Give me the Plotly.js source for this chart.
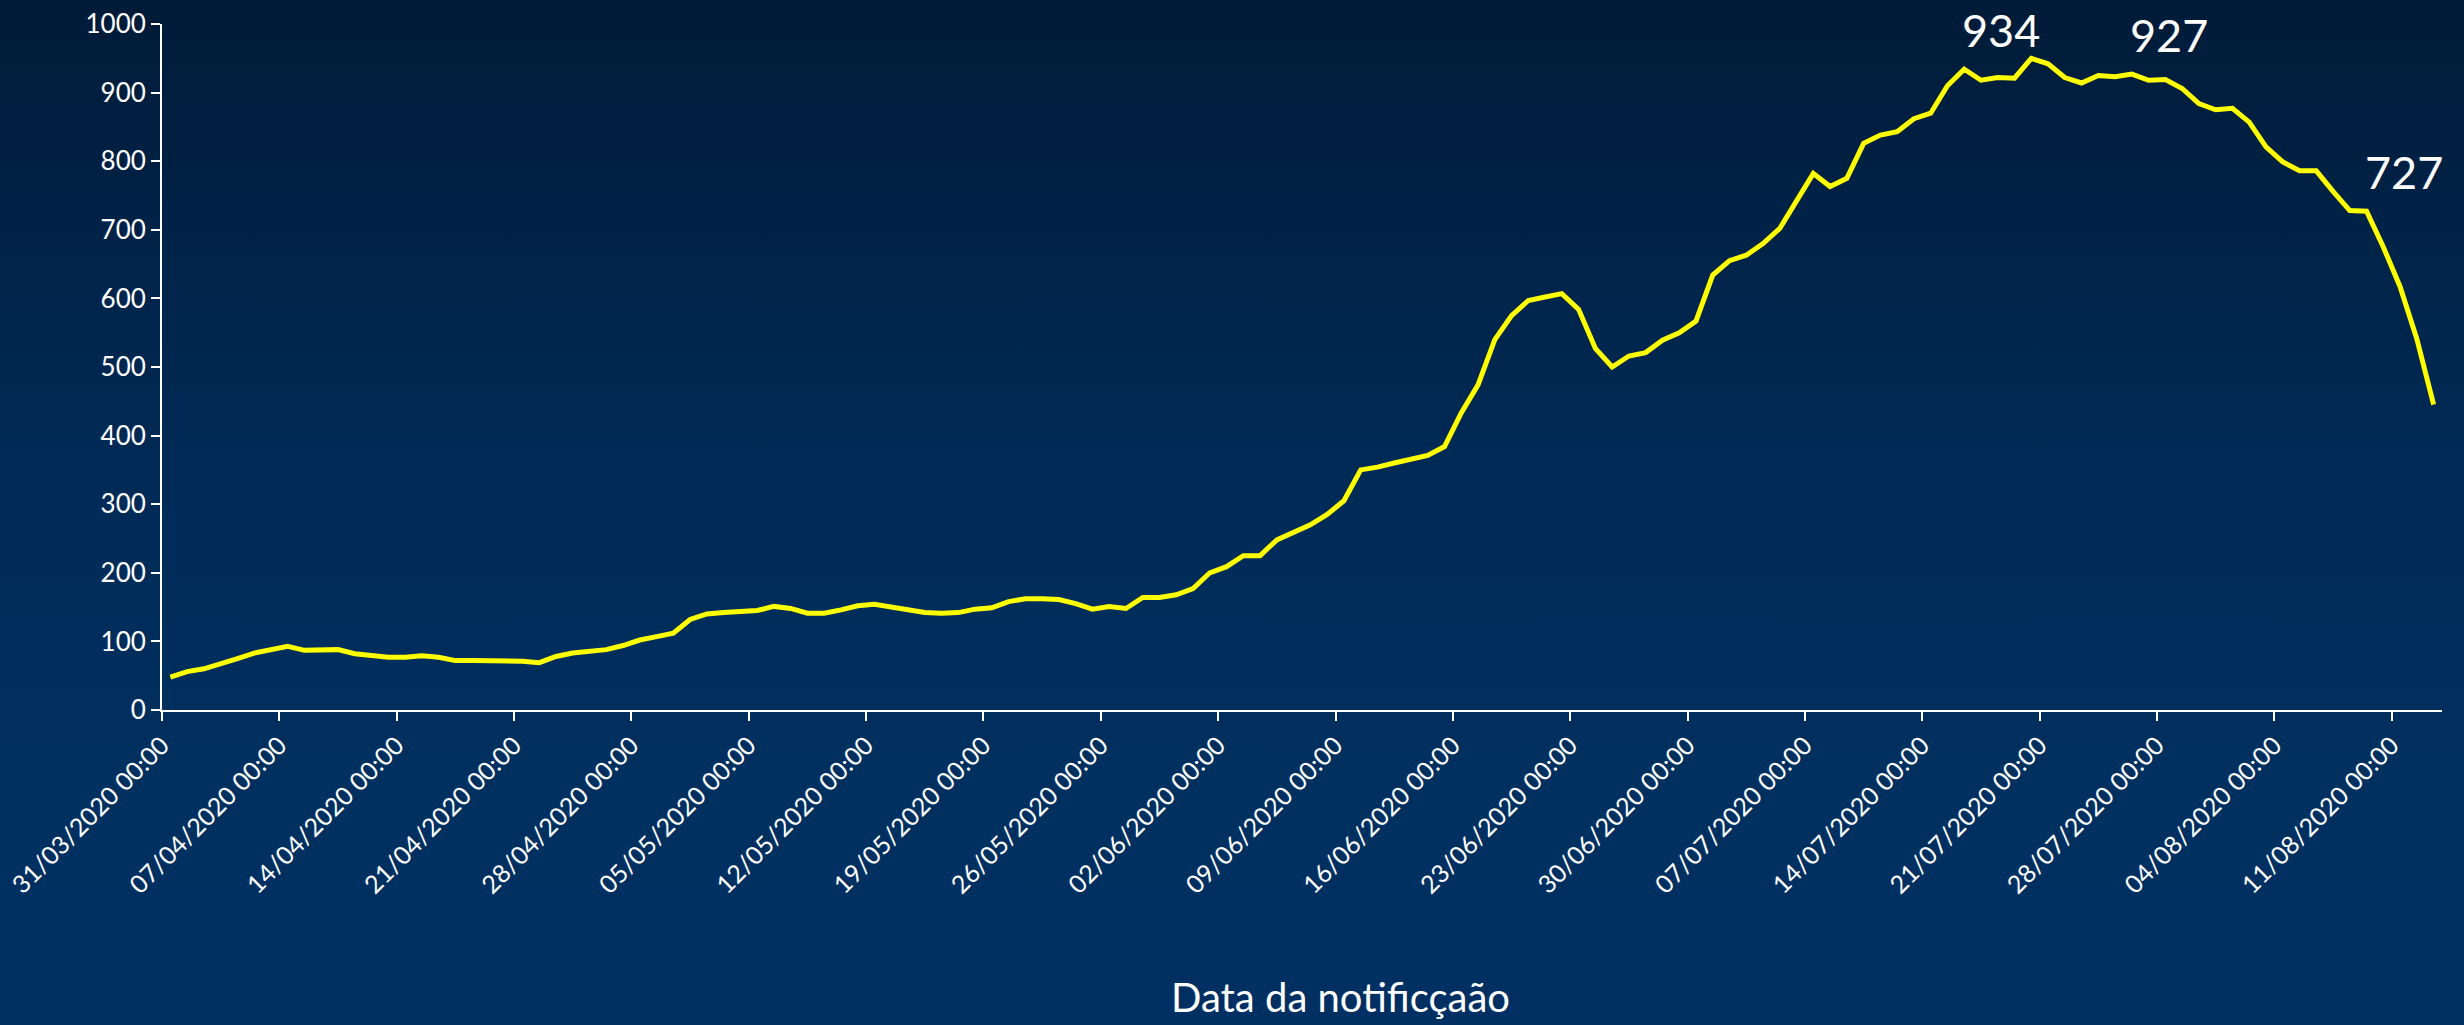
<!DOCTYPE html>
<html>
<head>
<meta charset="utf-8">
<script src="https://cdn.plot.ly/plotly-3.0.1.min.js"></script>
<style>
  html, body { margin: 0; padding: 0; }
  #chart {
    width: 2464px; height: 1025px;
    background: linear-gradient(to bottom, #001b38 0%, #012a56 45%, #00305f 75%, #003063 100%);
  }
</style>
</head>
<body>
<div id="chart"></div>
<script>
// ---- data ----
const startDate = '2020-03-31';
const values = [
  48, 56, 60, 67, 75, 83, 88, 93, 87, 87,
  88, 82, 80, 77, 77, 79, 77, 72, 72, 72,
  72, 71, 69, 78, 83, 86, 88, 94, 102, 107,
  112, 132, 140, 142, 144, 145, 151, 148, 141, 141,
  146, 152, 154, 150, 146, 142, 141, 142, 147, 149,
  158, 162, 162, 161, 155, 147, 151, 148, 164, 164,
  168, 177, 200, 209, 225, 225, 248, 259, 270, 285,
  305, 350, 354, 360, 365, 371, 384, 433, 474, 540,
  575, 597, 602, 607, 584, 527, 500, 516, 521, 539,
  550, 567, 634, 655, 663, 680, 702, 743, 782, 763,
  775, 826, 838, 843, 862, 870, 910, 934, 918, 922,
  921, 950, 942, 922, 914, 925, 923, 927, 918, 919,
  906, 884, 875, 877, 857, 821, 799, 786, 786, 756,
  728, 727, 675, 617, 541, 445
];
const tickDates = [
  '2020-03-31','2020-04-07','2020-04-14','2020-04-21','2020-04-28',
  '2020-05-05','2020-05-12','2020-05-19','2020-05-26','2020-06-02',
  '2020-06-09','2020-06-16','2020-06-23','2020-06-30','2020-07-07',
  '2020-07-14','2020-07-21','2020-07-28','2020-08-04','2020-08-11'
];
const tickLabels = [
  '31/03/2020 00:00','07/04/2020 00:00','14/04/2020 00:00','21/04/2020 00:00','28/04/2020 00:00',
  '05/05/2020 00:00','12/05/2020 00:00','19/05/2020 00:00','26/05/2020 00:00','02/06/2020 00:00',
  '09/06/2020 00:00','16/06/2020 00:00','23/06/2020 00:00','30/06/2020 00:00','07/07/2020 00:00',
  '14/07/2020 00:00','21/07/2020 00:00','28/07/2020 00:00','04/08/2020 00:00','11/08/2020 00:00'
];
const labelDates = ['2020-07-16', '2020-07-26', '2020-08-09'];
const labelValues = [934, 927, 727];
const yTicks = [0, 100, 200, 300, 400, 500, 600, 700, 800, 900, 1000];
const xTitle = 'Data da notificçaão';

// ---- build daily dates (category centre at noon) ----
function pad(n) { return (n < 10 ? '0' : '') + n; }
function fmt(d) { return d.getUTCFullYear() + '-' + pad(d.getUTCMonth() + 1) + '-' + pad(d.getUTCDate()); }
const dates = [];
const base = new Date(startDate + 'T00:00:00Z');
for (let i = 0; i < values.length; i++) {
  const d = new Date(base.getTime() + i * 86400000);
  dates.push(fmt(d) + ' 12:00');
}
const endD = new Date(base.getTime() + values.length * 86400000);
const rangeEnd = fmt(endD);

const FONT = 'Century Gothic, Lato, sans-serif';

const trace = {
  x: dates, y: values, type: 'scatter', mode: 'lines',
  line: { color: '#ffff00', width: 5 },
  hoverinfo: 'x+y'
};

const annotations = labelDates.map((d, k) => ({
  x: d + ' 12:00', y: labelValues[k], xref: 'x', yref: 'y',
  text: String(labelValues[k]), showarrow: false,
  xanchor: 'left', yanchor: 'bottom', xshift: -4, yshift: 10,
  font: { family: FONT, size: 45, color: '#ffffff' }
}));
const plotW = 2464 - 162 - 22, plotH = 1025 - 24 - 315;
annotations.push({
  x: (1340 - 162) / plotW, xref: 'paper', y: (710 - 997) / plotH, yref: 'paper',
  text: xTitle, showarrow: false, xanchor: 'center', yanchor: 'middle',
  font: { family: FONT, size: 40, color: '#ffffff' }
});

const layout = {
  width: 2464, height: 1025,
  paper_bgcolor: 'rgba(0,0,0,0)', plot_bgcolor: 'rgba(0,0,0,0)',
  margin: { l: 162, r: 22, t: 24, b: 315 },
  showlegend: false,
  font: { family: FONT, color: '#ffffff' },
  xaxis: {
    type: 'date',
    range: [startDate, rangeEnd],
    tickmode: 'array', tickvals: tickDates, ticktext: tickLabels,
    tickangle: -45,
    ticklabeloverflow: 'allow',
    tickfont: { family: FONT, size: 25, color: '#ffffff' },
    showgrid: false, zeroline: false,
    showline: true, linecolor: '#ffffff', linewidth: 2,
    ticks: 'outside', ticklen: 9, tickwidth: 2, tickcolor: '#ffffff'
  },
  yaxis: {
    range: [0, 1000],
    tickmode: 'array', tickvals: yTicks,
    tickfont: { family: FONT, size: 26, color: '#ffffff' },
    showgrid: false, zeroline: false,
    showline: true, linecolor: '#ffffff', linewidth: 2,
    ticks: 'outside', ticklen: 9, tickwidth: 2, tickcolor: '#ffffff'
  },
  annotations: annotations
};

Plotly.newPlot('chart', [trace], layout, { displayModeBar: false, staticPlot: true });
</script>
</body>
</html>
